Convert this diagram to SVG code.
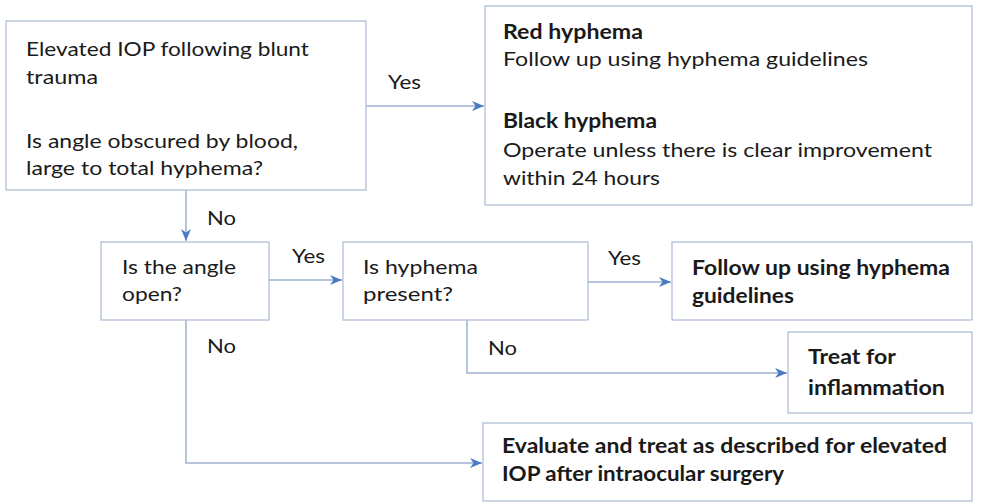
<svg xmlns="http://www.w3.org/2000/svg" width="981" height="502" viewBox="0 0 981 502">
<defs>
<style>
.box{fill:#ffffff;stroke:#a9b9d2;stroke-width:1.2}
.t{font-family:Lato,"Liberation Sans",sans-serif;font-size:20px;fill:#1a1a1a}
.b{font-weight:bold}
.c{fill:none;stroke:#9fb2cf;stroke-width:1.5}
</style>
<marker id="ah" viewBox="0 0 12 10" refX="12" refY="5" markerWidth="12" markerHeight="10" markerUnits="userSpaceOnUse" orient="auto">
<path d="M0,0 L12,5 L0,10 L3.5,5 Z" fill="#4a7cc4"/>
</marker>
</defs>
<rect width="981" height="502" fill="#ffffff"/>
<g id="connectors">
<path class="c" d="M366,106 H484" marker-end="url(#ah)"/>
<path class="c" d="M186,190 V241" marker-end="url(#ah)"/>
<path class="c" d="M269,280 H342" marker-end="url(#ah)"/>
<path class="c" d="M588,282 H671" marker-end="url(#ah)"/>
<path class="c" d="M467,320 V373 H787" marker-end="url(#ah)"/>
<path class="c" d="M186,320 V463 H482" marker-end="url(#ah)"/>
<text class="t" x="388" y="89" textLength="33" lengthAdjust="spacingAndGlyphs">Yes</text>
<text class="t" x="207" y="225" textLength="29" lengthAdjust="spacingAndGlyphs">No</text>
<text class="t" x="292" y="263" textLength="33" lengthAdjust="spacingAndGlyphs">Yes</text>
<text class="t" x="608" y="265" textLength="33" lengthAdjust="spacingAndGlyphs">Yes</text>
<text class="t" x="207" y="353" textLength="29" lengthAdjust="spacingAndGlyphs">No</text>
<text class="t" x="488" y="355" textLength="29" lengthAdjust="spacingAndGlyphs">No</text>
</g>
<g id="n1">
<rect class="box" x="6" y="21" width="360" height="169"/>
<text class="t" x="26" y="56" textLength="283" lengthAdjust="spacingAndGlyphs">Elevated IOP following blunt</text>
<text class="t" x="26" y="84" textLength="72" lengthAdjust="spacingAndGlyphs">trauma</text>
<text class="t" x="26" y="148" textLength="272" lengthAdjust="spacingAndGlyphs">Is angle obscured by blood,</text>
<text class="t" x="26" y="175" textLength="237" lengthAdjust="spacingAndGlyphs">large to total hyphema?</text>
</g>
<g id="n2">
<rect class="box" x="485" y="6" width="487" height="199"/>
<text class="t b" x="503" y="39" textLength="140" lengthAdjust="spacingAndGlyphs">Red hyphema</text>
<text class="t" x="503" y="66" textLength="365" lengthAdjust="spacingAndGlyphs">Follow up using hyphema guidelines</text>
<text class="t b" x="503" y="128" textLength="154" lengthAdjust="spacingAndGlyphs">Black hyphema</text>
<text class="t" x="503" y="157" textLength="429" lengthAdjust="spacingAndGlyphs">Operate unless there is clear improvement</text>
<text class="t" x="503" y="185" textLength="157" lengthAdjust="spacingAndGlyphs">within 24 hours</text>
</g>
<g id="n3">
<rect class="box" x="101" y="242" width="168" height="78"/>
<text class="t" x="122" y="274" textLength="114" lengthAdjust="spacingAndGlyphs">Is the angle</text>
<text class="t" x="122" y="301" textLength="60" lengthAdjust="spacingAndGlyphs">open?</text>
</g>
<g id="n4">
<rect class="box" x="343" y="242" width="245" height="78"/>
<text class="t" x="363" y="274" textLength="115" lengthAdjust="spacingAndGlyphs">Is hyphema</text>
<text class="t" x="363" y="301" textLength="90" lengthAdjust="spacingAndGlyphs">present?</text>
</g>
<g id="n5">
<rect class="box" x="672" y="242" width="300" height="78"/>
<text class="t b" x="692" y="275" textLength="258" lengthAdjust="spacingAndGlyphs">Follow up using hyphema</text>
<text class="t b" x="692" y="303" textLength="102" lengthAdjust="spacingAndGlyphs">guidelines</text>
</g>
<g id="n6">
<rect class="box" x="788" y="332" width="184" height="81"/>
<text class="t b" x="808" y="364" textLength="88" lengthAdjust="spacingAndGlyphs">Treat for</text>
<text class="t b" x="808" y="395" textLength="137" lengthAdjust="spacingAndGlyphs">inflammation</text>
</g>
<g id="n7">
<rect class="box" x="483" y="423" width="489" height="78"/>
<text class="t b" x="502" y="453" textLength="445" lengthAdjust="spacingAndGlyphs">Evaluate and treat as described for elevated</text>
<text class="t b" x="502" y="481" textLength="282" lengthAdjust="spacingAndGlyphs">IOP after intraocular surgery</text>
</g>
</svg>
